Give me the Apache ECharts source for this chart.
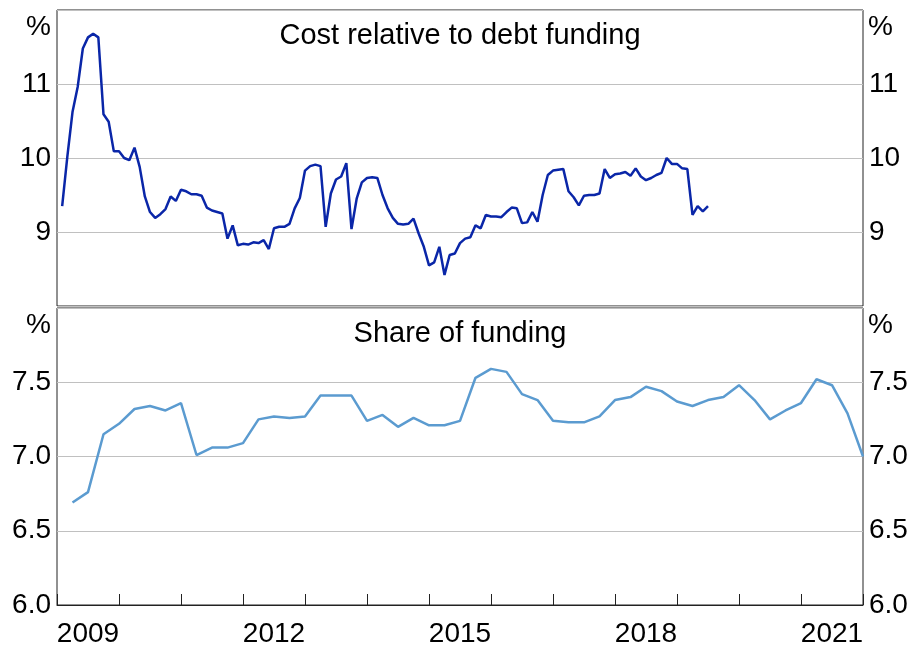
<!DOCTYPE html>
<html>
<head>
<meta charset="utf-8">
<script src="https://cdn.jsdelivr.net/npm/echarts@6/dist/echarts.min.js"></script>
<style>
  html, body { margin: 0; padding: 0; background: #fff; }
  #main { width: 911px; height: 652px; }
</style>
</head>
<body>
<div id="main"></div>
<script>
// monthly, Jan 2009 - Jun 2019 (per cent)
var costStartYear = 2009;
var costValues = [
  9.35, 10.02, 10.62, 10.96, 11.48, 11.63, 11.68, 11.63, 10.59, 10.49, 10.09, 10.09,
  10.00, 9.97, 10.14, 9.88, 9.48, 9.27, 9.19, 9.24, 9.31, 9.48, 9.42, 9.57,
  9.55, 9.51, 9.51, 9.49, 9.33, 9.29, 9.27, 9.25, 8.91, 9.09, 8.82, 8.84,
  8.83, 8.86, 8.85, 8.89, 8.77, 9.05, 9.07, 9.07, 9.11, 9.32, 9.46, 9.83,
  9.89, 9.91, 9.89, 9.07, 9.52, 9.71, 9.75, 9.93, 9.04, 9.45, 9.67, 9.73,
  9.74, 9.73, 9.50, 9.32, 9.19, 9.11, 9.10, 9.11, 9.18, 8.98, 8.80, 8.55,
  8.59, 8.80, 8.42, 8.69, 8.71, 8.85, 8.91, 8.93, 9.09, 9.05, 9.23, 9.21,
  9.21, 9.20, 9.27, 9.33, 9.32, 9.12, 9.13, 9.27, 9.14, 9.50, 9.77, 9.83,
  9.84, 9.85, 9.55, 9.47, 9.36, 9.49, 9.50, 9.50, 9.52, 9.85, 9.73, 9.78,
  9.79, 9.81, 9.76, 9.86, 9.75, 9.70, 9.73, 9.77, 9.80, 10.00, 9.92, 9.92,
  9.86, 9.85, 9.23, 9.35, 9.28, 9.35
];
// quarterly, Mar 2009 - Dec 2021 (per cent)
var shareStartYear = 2009;
var shareValues = [
  6.69, 6.76, 7.15, 7.22, 7.32, 7.34, 7.31, 7.36,
  7.01, 7.06, 7.06, 7.09, 7.25, 7.27, 7.26, 7.27,
  7.41, 7.41, 7.41, 7.24, 7.28, 7.20, 7.26, 7.21,
  7.21, 7.24, 7.53, 7.59, 7.57, 7.42, 7.38, 7.24,
  7.23, 7.23, 7.27, 7.38, 7.40, 7.47, 7.44, 7.37,
  7.34, 7.38, 7.40, 7.48, 7.38, 7.25, 7.31, 7.36,
  7.52, 7.48, 7.29, 7.00
];
var yearLabels = ['2009','2010','2011','2012','2013','2014','2015','2016','2017','2018','2019','2020','2021'];
var costTicks = [8, 9, 10, 11, 12];
var shareTicks = [6.0, 6.5, 7.0, 7.5, 8.0];

var costData = costValues.map(function (v, i) { return [costStartYear + (i + 1) / 12, v]; });
var shareData = shareValues.map(function (v, i) { return [shareStartYear + (i + 1) / 4, v]; });

var FONT = 'Arial, "Liberation Sans", sans-serif';
var FS = 28;

function yAx(grid, pos, min, max, step, fmt, split) {
  return {
    type: 'value', gridIndex: grid, position: pos, min: min, max: max, interval: step,
    axisLine: { show: false }, axisTick: { show: false },
    splitLine: { show: split, lineStyle: { color: '#c0c0c0', width: 1 } },
    axisLabel: {
      fontSize: FS, fontFamily: FONT, color: '#000', margin: 6,
      // top value is replaced by the % unit, bottom value only shown on the lower panel
      formatter: function (v) { return (v <= min || v >= max) && !(grid === 1 && v === min) ? '' : fmt(v); }
    }
  };
}
var costFmt = function (v) { return String(v); };
var shareFmt = function (v) { return v.toFixed(1); };

var chart = echarts.init(document.getElementById('main'));
chart.setOption({
  animation: false,
  backgroundColor: '#fff',
  grid: [
    { left: 57, right: 48, top: 10, height: 296, show: true, borderColor: '#222', borderWidth: 1 },
    { left: 57, right: 48, top: 308, height: 297, show: true, borderColor: '#222', borderWidth: 1 }
  ],
  xAxis: [
    { type: 'value', gridIndex: 0, min: 2009, max: 2022, show: false },
    { type: 'value', gridIndex: 1, min: 2009, max: 2022, show: false },
    {
      type: 'category', gridIndex: 1, data: yearLabels, boundaryGap: true, position: 'bottom',
      axisLine: { show: true, lineStyle: { color: '#222', width: 1 } },
      axisTick: { show: true, inside: true, length: 11, interval: 0, lineStyle: { color: '#222' } },
      splitLine: { show: false },
      axisLabel: { interval: 2, fontSize: FS, fontFamily: FONT, color: '#000', margin: 15 }
    }
  ],
  yAxis: [
    yAx(0, 'left', costTicks[0], costTicks[costTicks.length - 1], 1, costFmt, true),
    yAx(0, 'right', costTicks[0], costTicks[costTicks.length - 1], 1, costFmt, false),
    yAx(1, 'left', shareTicks[0], shareTicks[shareTicks.length - 1], 0.5, shareFmt, true),
    yAx(1, 'right', shareTicks[0], shareTicks[shareTicks.length - 1], 0.5, shareFmt, false)
  ],
  graphic: [
    { type: 'text', x: 460, y: 36, style: { text: 'Cost relative to debt funding', font: '29px ' + FONT, fill: '#000', textAlign: 'center', textVerticalAlign: 'middle' } },
    { type: 'text', x: 460, y: 334, style: { text: 'Share of funding', font: '29px ' + FONT, fill: '#000', textAlign: 'center', textVerticalAlign: 'middle' } },
    { type: 'text', x: 51, y: 27, style: { text: '%', font: FS + 'px ' + FONT, fill: '#000', textAlign: 'right', textVerticalAlign: 'middle' } },
    { type: 'text', x: 868, y: 27, style: { text: '%', font: FS + 'px ' + FONT, fill: '#000', textAlign: 'left', textVerticalAlign: 'middle' } },
    { type: 'text', x: 51, y: 325, style: { text: '%', font: FS + 'px ' + FONT, fill: '#000', textAlign: 'right', textVerticalAlign: 'middle' } },
    { type: 'text', x: 868, y: 325, style: { text: '%', font: FS + 'px ' + FONT, fill: '#000', textAlign: 'left', textVerticalAlign: 'middle' } }
  ],
  series: [
    {
      name: 'Cost relative to debt funding', type: 'line', xAxisIndex: 0, yAxisIndex: 0,
      data: costData, showSymbol: false, lineStyle: { color: '#0a26a8', width: 2.5 }
    },
    {
      name: 'Share of funding', type: 'line', xAxisIndex: 1, yAxisIndex: 2,
      data: shareData, showSymbol: false, lineStyle: { color: '#5b9bd0', width: 2.5 }
    }
  ]
});
</script>
</body>
</html>
